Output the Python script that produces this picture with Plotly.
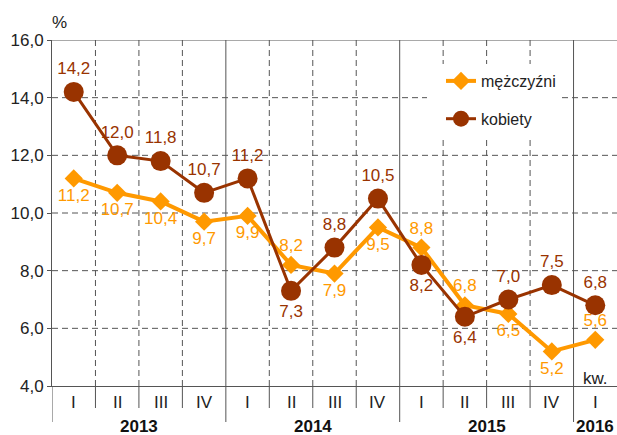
import plotly.graph_objects as go

# ---- data ----
quarters = ["I", "II", "III", "IV", "I", "II", "III", "IV", "I", "II", "III", "IV", "I"]
years = ["2013", "2014", "2015", "2016"]
year_spans = [(0, 4), (4, 8), (8, 12), (12, 13)]
men = [11.2, 10.7, 10.4, 9.7, 9.9, 8.2, 7.9, 9.5, 8.8, 6.8, 6.5, 5.2, 5.6]
women = [14.2, 12.0, 11.8, 10.7, 11.2, 7.3, 8.8, 10.5, 8.2, 6.4, 7.0, 7.5, 6.8]
y_ticks = [4.0, 6.0, 8.0, 10.0, 12.0, 14.0, 16.0]
series_names = ["mężczyźni", "kobiety"]

# ---- styling ----
W, H = 617, 435
ML, MR, MT, MB = 52, 0, 40, 49
PLOT_H = H - MT - MB
ORANGE = "#FF9900"
BROWN = "#993300"
GRID = "#555555"
FONT = "Liberation Sans, Arial, sans-serif"

men_pos = ["bottom center"] * 5 + ["top center", "bottom center", "bottom center",
                                   "top center", "top center", "bottom center",
                                   "bottom center", "top center"]
women_pos = ["top center"] * 5 + ["bottom center", "top center", "top center",
                                  "bottom center", "bottom center", "top center",
                                  "top center", "top center"]

def fmt(v):
    return f"{v:.1f}".replace(".", ",")

xs = [i + 0.5 for i in range(len(quarters))]

fig = go.Figure()
fig.add_trace(go.Scatter(
    x=xs, y=men, name=series_names[0], legendgroup="m",
    mode="lines+markers+text",
    line=dict(color=ORANGE, width=4),
    marker=dict(symbol="diamond", size=14, color=ORANGE),
    text=[fmt(v) for v in men], textposition=men_pos,
    textfont=dict(color=ORANGE, size=17, family=FONT),
    cliponaxis=False, hoverinfo="skip",
))
fig.add_trace(go.Scatter(
    x=xs, y=women, name=series_names[1], legendgroup="w",
    mode="lines+markers+text",
    line=dict(color=BROWN, width=3),
    marker=dict(symbol="circle", size=20, color=BROWN),
    text=[fmt(v) for v in women], textposition=women_pos,
    textfont=dict(color=BROWN, size=17, family=FONT),
    cliponaxis=False, hoverinfo="skip",
))

shapes = []
for v in y_ticks[1:-1]:
    shapes.append(dict(type="line", xref="paper", yref="y", x0=0, x1=1, y0=v, y1=v,
                       line=dict(color=GRID, width=1, dash="6px,4px"), layer="below"))
shapes.append(dict(type="line", xref="paper", yref="y", x0=0, x1=1, y0=y_ticks[-1], y1=y_ticks[-1],
                   line=dict(color=GRID, width=1), layer="below"))
year_bounds = [s for s, e in year_spans]
n = len(quarters)
for k in range(0, n):
    is_year = k in year_bounds
    if k > 0:
        shapes.append(dict(type="line", xref="x", yref="y", x0=k, x1=k,
                           y0=y_ticks[0], y1=y_ticks[-1],
                           line=dict(color=GRID, width=1, dash="solid" if is_year else "6px,4px"),
                           layer="below"))
    depth = 36 if is_year else 22
    shapes.append(dict(type="line", xref="x", yref="paper", x0=k, x1=k,
                       y0=0, y1=-depth / PLOT_H,
                       line=dict(color=GRID, width=1)))

annotations = []
for i, q in enumerate(quarters):
    annotations.append(dict(x=xs[i], y=0, xref="x", yref="paper", text=q, showarrow=False,
                            yshift=-16, yanchor="middle",
                            font=dict(size=17, color="#222222", family=FONT)))
for yr, (s, e) in zip(years, year_spans):
    annotations.append(dict(x=(s + e) / 2, y=0, xref="x", yref="paper", text=f"<b>{yr}</b>",
                            showarrow=False, yshift=-40, yanchor="middle",
                            font=dict(size=17, color="#111111", family=FONT)))
annotations.append(dict(x=xs[-1], y=0, xref="x", yref="paper", text="kw.", showarrow=False,
                        yshift=8, yanchor="middle", font=dict(size=17, color="#222222", family=FONT)))
annotations.append(dict(x=0, y=1, xref="paper", yref="paper", text="%", showarrow=False,
                        xshift=-2, yshift=18, yanchor="middle",
                        font=dict(size=17, color="#222222", family=FONT)))

fig.update_layout(
    width=W, height=H,
    margin=dict(l=ML, r=MR, t=MT, b=MB, pad=0),
    paper_bgcolor="white", plot_bgcolor="white",
    font=dict(family=FONT, size=17, color="#222222"),
    shapes=shapes, annotations=annotations,
    showlegend=True,
    legend=dict(x=(427 - ML) / (W - ML - MR), y=(386 - 64) / PLOT_H,
                xanchor="left", yanchor="top",
                bgcolor="white", borderwidth=0,
                font=dict(size=16, color="#222222", family=FONT),
                tracegroupgap=14, traceorder="grouped", indentation=14),
    xaxis=dict(range=[0, n], showgrid=False, zeroline=False, showticklabels=False,
               ticks="", showline=True, linecolor=GRID, linewidth=1, fixedrange=True),
    yaxis=dict(range=[y_ticks[0], y_ticks[-1]], tickvals=y_ticks,
               ticktext=[fmt(v) for v in y_ticks], showgrid=False, zeroline=False,
               ticks="outside", ticklen=4, tickcolor=GRID, showline=True,
               linecolor=GRID, linewidth=1,
               tickfont=dict(size=17, color="#222222", family=FONT), fixedrange=True),
)

fig.write_html("out.html", config={"displayModeBar": False},
               post_script="document.body.style.margin='0';document.body.style.overflow='hidden';")
